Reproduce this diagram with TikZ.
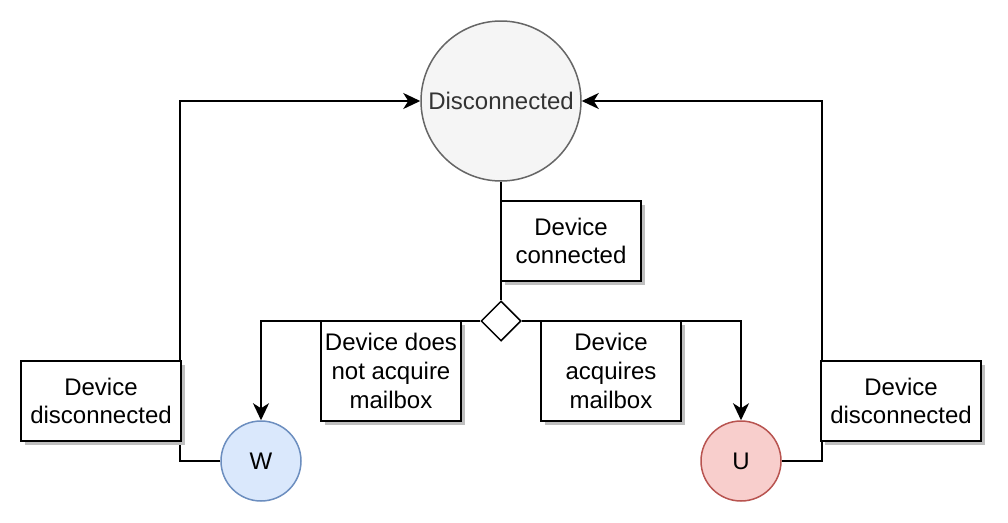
\documentclass[tikz,border=0pt]{standalone}
\usepackage{fontspec}
\setmainfont{Liberation Sans}
\usepackage{xcolor}
\usepackage{tikz}
\usetikzlibrary{shapes.geometric,arrows.meta,shadows}
\definecolor{discfill}{HTML}{F5F5F5}
\definecolor{discline}{HTML}{666666}
\definecolor{disctext}{HTML}{333333}
\definecolor{wfill}{HTML}{DAE8FC}
\definecolor{wline}{HTML}{6C8EBF}
\definecolor{ufill}{HTML}{F8CECC}
\definecolor{uline}{HTML}{B85450}

\begin{document}
\begin{tikzpicture}[
				x = 1pt, y = -1pt,
				every node/.style = {font=\fontsize{24}{28.8}\selectfont},
				state/.style = {circle, draw, line width=1.5pt, inner sep=0pt},
				decision/.style = {diamond, draw, line width=1.5pt, fill=white, minimum width=40pt, minimum height=40pt, inner sep=0pt},
				labelbox/.style = {rectangle, draw, line width=2pt, fill=white, align=center, minimum width=140pt, minimum height=80pt, inner sep=0pt, drop shadow={shadow xshift=4pt, shadow yshift=-4pt, fill=black!25, opacity=1}},
				flow/.style = {line width=2pt},
				arrowflow/.style = {flow, -{Stealth[length=17pt, width=16pt, inset=5pt]}}
				]
				\useasboundingbox (0,0) rectangle (1008,522);
				
				\node [state, fill=discfill, draw=discline, text=disctext, minimum size=160pt] (disc) at (501,101) {Disconnected};
				\node [state, fill=wfill, draw=wline, minimum size=80pt] (W) at (261,461) {W};
				\node [state, fill=ufill, draw=uline, minimum size=80pt] (U) at (741,461) {U};
				\node [decision] (dec) at (501,321) {};
				
				\draw [flow] (disc.south) -- (dec.north);
				\draw [arrowflow] (dec.west) -| (W.north);
				\draw [arrowflow] (dec.east) -| (U.north);
				\draw [arrowflow] (W.west) -- ++(-40,0) |- (disc.west);
				\draw [arrowflow] (U.east) -- ++(40,0) |- (disc.east);
				
				\node [labelbox] (connected) at (571,241) {Device\\connected};
				\node [labelbox, minimum height=100pt] (noacquire) at (391,371) {Device does\\not acquire\\mailbox};
				\node [labelbox, minimum height=100pt] (acquire) at (611,371) {Device\\acquires\\mailbox};
				\node [labelbox, minimum width=160pt] (leftoff) at (101,401) {Device\\disconnected};
				\node [labelbox, minimum width=160pt] (rightoff) at (901,401) {Device\\disconnected};
			\end{tikzpicture}
\end{document}
